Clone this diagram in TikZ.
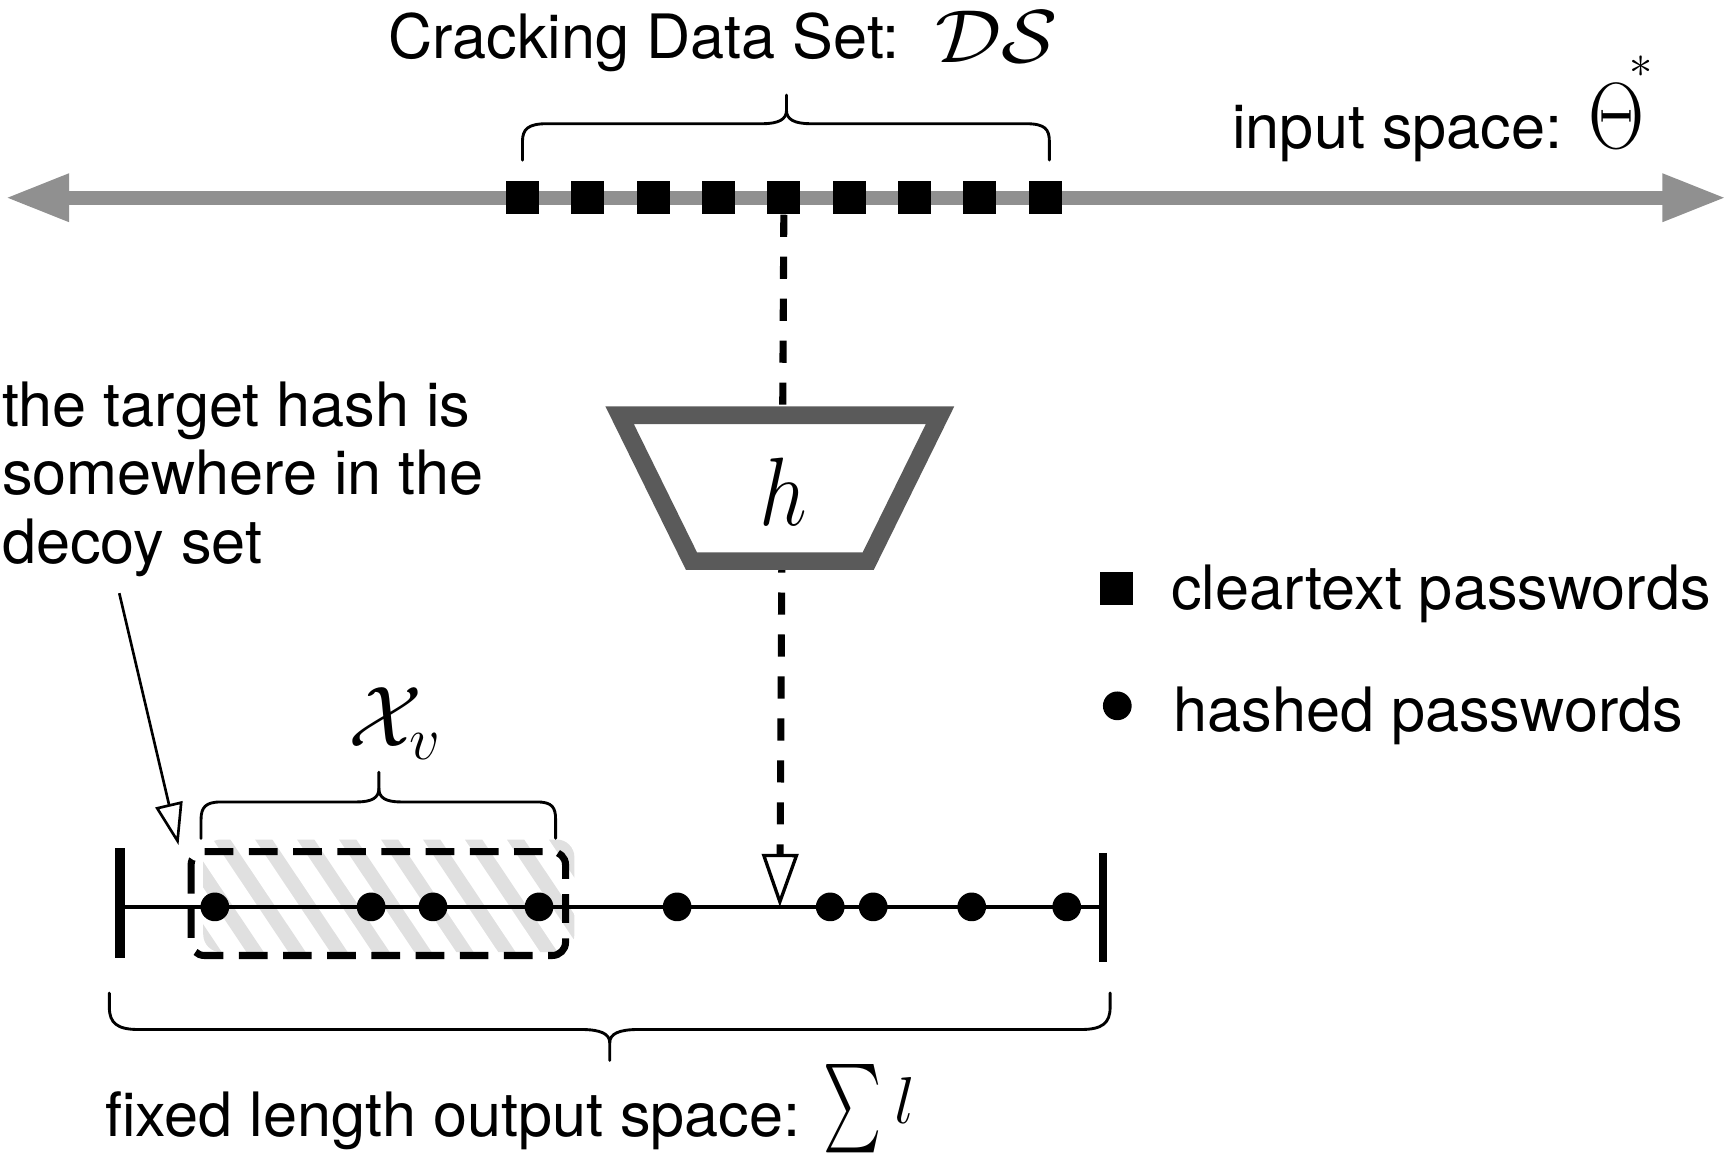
\RequirePackage{fix-cm}
\documentclass[tikz,border=0pt]{standalone}
\usepackage[no-math]{fontspec}
\setmainfont{TeX Gyre Heros}
\usepackage{graphicx}
\usetikzlibrary{arrows.meta}
\definecolor{axisgray}{HTML}{909090}
\definecolor{boxgray}{HTML}{5A5A5A}
\definecolor{hatchgray}{HTML}{E0E0E0}
\begin{document}
\begin{tikzpicture}[x=0.5pt,y=-0.5pt,
  txt/.style={inner sep=0pt, font=\fontsize{27.7}{33}\selectfont},
  sq/.style={fill=black, minimum size=15pt, inner sep=0pt},
  dot/.style={circle, fill=black, minimum size=13pt, inner sep=0pt},
  bracepath/.style={line width=1.3pt, line cap=round, line join=round},
  dashconn/.style={line width=3.2pt, dash pattern=on 10pt off 9pt},
  pointer/.style={line width=1.2pt, -{Triangle[open, length=19pt, width=12.5pt, line width=1.2pt]}}
]
\useasboundingbox (0,0) rectangle (1568,1050);

% ---------- input space axis ----------
\coordinate (axL) at (4.5,179);
\coordinate (axR) at (1563,179);
\draw[axisgray, line width=6.5pt, {Triangle[length=29pt,width=20pt]}-{Triangle[length=29pt,width=20pt]}] (axL) -- (axR);
\foreach \i in {1,...,9}
  \node[sq] (s\i) at ({473+59.15*(\i-1)},179) {};

% brace over cracking data set
\draw[bracepath] (473,145) -- (473,128) .. controls (473,117) and (478,112) .. (495,112) -- (690,112)
  .. controls (705,112) and (712,108) .. (712,100) -- (712,86);
\draw[bracepath] (712,100) .. controls (712,108) and (719,112) .. (734,112) -- (929,112)
  .. controls (946,112) and (950,117) .. (950,128) -- (950,145);

\node[txt, anchor=base west] (title) at (351,53)
  {Cracking Data Set: \hspace{6pt}\raisebox{-2pt}{\scalebox{1.1}[1]{\fontsize{34}{40}\selectfont$\mathcal{DS}$}}};
\node[txt, anchor=base west] (inp) at (1115,134.3)
  {input space:\hspace{12pt}\scalebox{0.86}[1.04]{\fontsize{41}{48}\selectfont$\Theta$}\hspace{-7pt}\raisebox{32pt}{\fontsize{21}{24}\selectfont$\ast$}};

% ---------- hash function ----------
\coordinate (tgt) at (706,821);
\draw[dashconn, -{Triangle[open, length=24pt, width=16.5pt, line width=1.5pt]}] (s5.south) -- (tgt);
\draw[boxgray, line width=8pt, fill=white, line join=miter] (561,376) -- (851,376) -- (786,508) -- (626,508) -- cycle;
\node[inner sep=0pt] (hf) at (709,445) {\scalebox{0.87}[1]{\fontsize{44}{50}\selectfont$h$}};

% ---------- output space ----------
\begin{scope}
  \clip[rounded corners=8pt] (184,760) rectangle (520,862);
  \foreach \k in {-3,...,9}
    \draw[hatchgray, line width=6.5pt] ({194+38*\k},750) -- ({194+38*\k+81.7},872);
\end{scope}

\coordinate (bL) at (109,821);
\coordinate (bR) at (998.6,821);
\draw[line width=2pt] (bL) -- (bR);
\draw[line width=4.5pt] (109,768) -- (109,867);
\draw[line width=3.3pt] (998.6,772) -- (998.6,870.6);

\draw[line width=3.2pt, dash pattern=on 13pt off 7pt, rounded corners=6pt] (173,771) rectangle (512,865);

\foreach \x [count=\j] in {194.5,336,392,488,613,751.6,790.5,879.7,965.7}
  \node[dot] (d\j) at (\x,821) {};

% brace over X_v
\draw[bracepath] (182,759) -- (182,742) .. controls (182,731) and (186,726) .. (200,726) -- (323,726)
  .. controls (337,726) and (343,722) .. (343,714) -- (343,699);
\draw[bracepath] (343,714) .. controls (343,722) and (349,726) .. (363,726) -- (486,726)
  .. controls (500,726) and (503,731) .. (503,742) -- (503,759);
\node[inner sep=0pt, anchor=base west] (xv) at (315,676) {\fontsize{39}{45}\selectfont$\mathcal{X}_v$};

% brace under output space
\draw[bracepath] (99,899) -- (99,912) .. controls (99,926) and (106,932) .. (125,932) -- (526,932)
  .. controls (544,932) and (552,936) .. (552,944) -- (552,960);
\draw[bracepath] (552,944) .. controls (552,936) and (560,932) .. (578,932) -- (979,932)
  .. controls (998,932) and (1005,926) .. (1005,912) -- (1005,899);

\node[txt, anchor=base west] (outsp) at (95,1029)
  {fixed length output space: \raisebox{2.5pt}{\scalebox{2.5}[4.0]{\fontsize{10}{12}\selectfont$\sum$}}\hspace{6pt}\raisebox{6pt}{\fontsize{30}{36}\selectfont$l$}};

% ---------- annotation ----------
\node[txt, anchor=base west] (ann1) at (1.5,386) {the target hash is};
\node[txt, anchor=base west] (ann2) at (1.5,448) {somewhere in the};
\node[txt, anchor=base west] (ann3) at (1.5,510) {decoy set};
\coordinate (annS) at (108,537);
\coordinate (annT) at (161.6,765);
\draw[pointer] (annS) -- (annT);

% ---------- legend ----------
\node[sq] (lsq) at (1010.5,532.6) {};
\node[txt, anchor=base west] (lsqt) at (1060,552) {cleartext passwords};
\node[dot] (ldot) at (1011.5,639) {};
\node[txt, anchor=base west] (ldott) at (1062,662) {hashed passwords};
\end{tikzpicture}
\end{document}
